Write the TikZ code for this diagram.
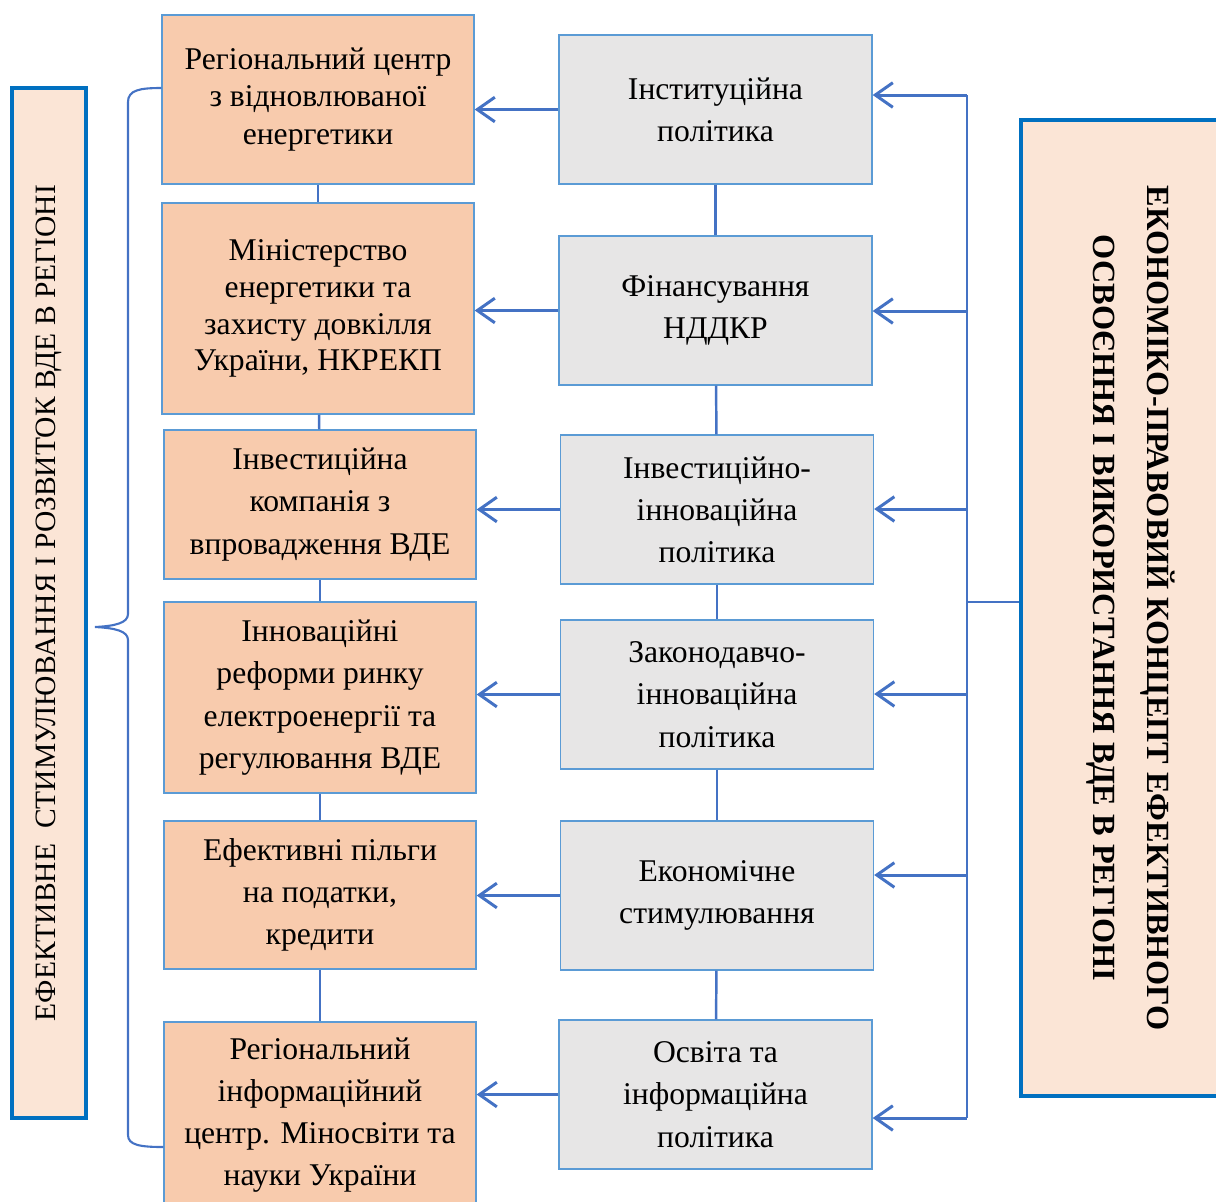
\documentclass[tikz,border=0pt]{standalone}
\usepackage{fontspec}
\setmainfont{Liberation Serif}
\usetikzlibrary{arrows.meta}

\definecolor{orangebox}{HTML}{F8CBAD}
\definecolor{greybox}{HTML}{E7E6E6}
\definecolor{peachbox}{HTML}{FBE5D6}
\definecolor{edgeblue}{HTML}{5B9BD5}
\definecolor{linkblue}{HTML}{4472C4}
\definecolor{frameblue}{HTML}{0070C0}

\begin{document}
\begin{tikzpicture}[x=0.02cm,y=-0.02cm,
	orgbox/.style={draw=edgeblue,line width=0.8pt,fill=orangebox,minimum width=6.24cm,align=center,font=\fontsize{18}{24}\selectfont},
	polbox/.style={draw=edgeblue,line width=0.8pt,fill=greybox,minimum width=6.26cm,minimum height=2.98cm,align=center,font=\fontsize{18}{24}\selectfont},
	sidebox/.style={draw=frameblue,line width=2pt,fill=peachbox,align=center},
	link/.style={linkblue,line width=1.7pt,-{Straight Barb[length=10pt,width=14pt]}},
	chain/.style={linkblue,line width=1.4pt}]
		\useasboundingbox (0,0) rectangle (1216,1201);
		% side boxes
		\node[sidebox,rotate=90,minimum width=20.6cm,minimum height=1.48cm,font=\fontsize{16.8}{20}\selectfont] (goal) at (49,603) {ЕФЕКТИВНЕ\ \ СТИМУЛЮВАННЯ І РОЗВИТОК ВДЕ В РЕГІОНІ};
		\node[sidebox,rotate=-90,minimum width=19.52cm,minimum height=4.4cm,font=\bfseries\fontsize{18.4}{31}\selectfont] (concept) at (1131,608) {ЕКОНОМІКО-ПРАВОВИЙ КОНЦЕПТ ЕФЕКТИВНОГО\\ОСВОЄННЯ І ВИКОРИСТАННЯ ВДЕ В РЕГІОНІ};
		% institutions
		\foreach \n/\x/\y/\h/\sk/\txt in {1/318/99.5/3.38/21.4/{Регіональний центр\\з відновлюваної\\енергетики},
			2/318/308.5/4.22/21/{Міністерство\\енергетики та\\захисту довкілля\\України, НКРЕКП},
			3/320/504.5/2.98/24/{Інвестиційна\\компанія з\\впровадження ВДЕ},
			4/320/697.5/3.82/24/{Інноваційні\\реформи ринку\\електроенергії та\\регулювання ВДЕ},
			5/320/895/2.96/24/{Ефективні пільги\\на податки,\\кредити},
			6/320/1115/3.72/24/{Регіональний\\інформаційний\\центр. Міносвіти та\\науки України}} {
			\node[orgbox,minimum height=\h cm,font=\fontsize{18}{\sk}\selectfont] (l\n) at (\x,\y) {\txt};
		}
		% policies
		\foreach \n/\x/\y/\txt in {1/715.5/109.5/{Інституційна\\політика},
			2/715.5/310.5/{Фінансування\\НДДКР},
			3/717/509.5/{Інвестиційно-\\інноваційна\\політика},
			4/717/694.5/{Законодавчо-\\інноваційна\\політика},
			5/717/895.5/{Економічне\\стимулювання},
			6/715.5/1094.5/{Освіта та\\інформаційна\\політика}} {
			\node[polbox] (m\n) at (\x,\y) {\txt};
		}
		\foreach \a/\b in {1/2,2/3,3/4,4/5,5/6} {
			\draw[chain] (l\a) -- (l\b);
			\draw[chain] (m\a) -- (m\b);
		}
		\foreach \n in {1,...,6} {
			\draw[link] (m\n.west) -- (m\n.west -| l\n.east);
		}
		% bus on the right
		\foreach \n/\y in {1/95,2/311,3/509,4/694,5/875,6/1118} {
			\coordinate (b\n) at (967,\y);
			\draw[link] (b\n) -- (b\n -| m\n.east);
		}
		\coordinate (bm) at (967,602);
		\draw[chain] (b1) -- (b6);
		\draw[chain] (bm) -- (bm -| concept.south);
		% brace
		\draw[linkblue,line width=1.2pt] (l1.west |- 0,88) .. controls (140,88) and (128,90) .. (128,102) -- (128,614)
			.. controls (128,623) and (115,626) .. (95,627) .. controls (115,628) and (128,631) .. (128,640)
			-- (128,1135) .. controls (128,1145) and (140,1147) .. (l6.west |- 0,1147);
\end{tikzpicture}
\end{document}
